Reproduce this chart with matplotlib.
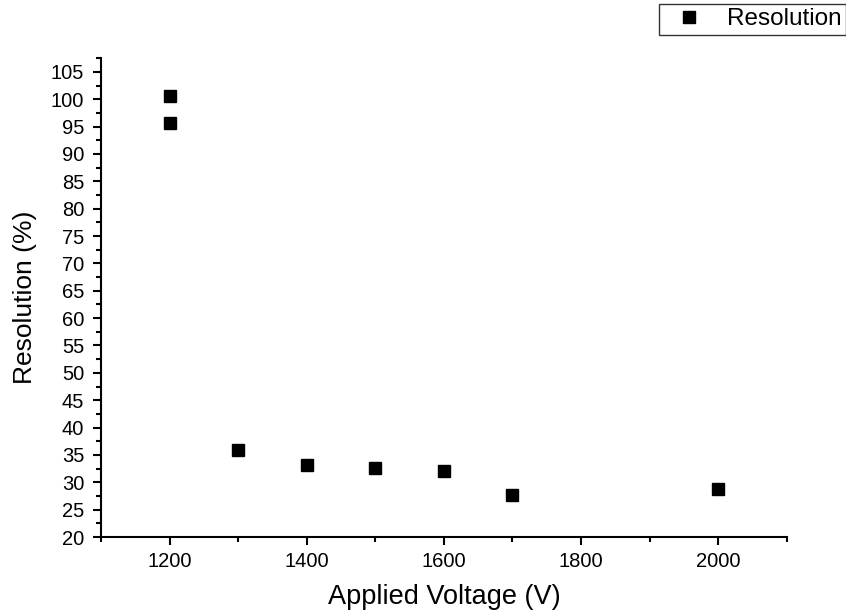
import matplotlib as mpl
import matplotlib.pyplot as plt
import numpy as np
from matplotlib.ticker import MultipleLocator

mpl.rcParams['font.family'] = ['Liberation Sans', 'DejaVu Sans']

# data
voltage = [1200, 1200, 1300, 1400, 1500, 1600, 1700, 2000]
resolution = [100.5, 95.6, 35.9, 33.2, 32.6, 32.1, 27.7, 28.8]

fig = plt.figure(figsize=(8.46, 6.12), dpi=100)
ax = fig.add_axes([0.1194, 0.1225, 0.8106, 0.7825])

ax.plot(voltage, resolution, ls='none', marker='s', markersize=8.5,
        color='black', label='Resolution')

ax.set_xlim(1100, 2100)
ax.set_ylim(20, 107.5)
ax.xaxis.set_major_locator(MultipleLocator(200))
ax.xaxis.set_minor_locator(MultipleLocator(100))
ax.yaxis.set_major_locator(MultipleLocator(5))
ax.yaxis.set_minor_locator(MultipleLocator(2.5))
ax.set_xticks([1200, 1400, 1600, 1800, 2000])

for side in ['top', 'right']:
    ax.spines[side].set_visible(False)
for side in ['left', 'bottom']:
    ax.spines[side].set_linewidth(1.5)

ax.tick_params(which='major', direction='out', length=6, width=1.5, labelsize=14.5)
ax.tick_params(axis='x', which='major', pad=5)
ax.tick_params(axis='y', which='major', pad=6)
ax.tick_params(which='minor', direction='out', length=3.5, width=1.5)

ax.set_xlabel('Applied Voltage (V)', fontsize=19.5, labelpad=9)
ax.set_ylabel('Resolution (%)', fontsize=19, labelpad=10)

leg = fig.legend(loc='upper left', bbox_to_anchor=(659/846, 1 - 4/612),
                 frameon=True, fancybox=False, edgecolor='black',
                 fontsize=17.5, handlelength=2.1, handletextpad=0.53,
                 borderpad=0.18, borderaxespad=0)
leg.get_frame().set_linewidth(1.0)

plt.savefig('out.png', dpi=100)
